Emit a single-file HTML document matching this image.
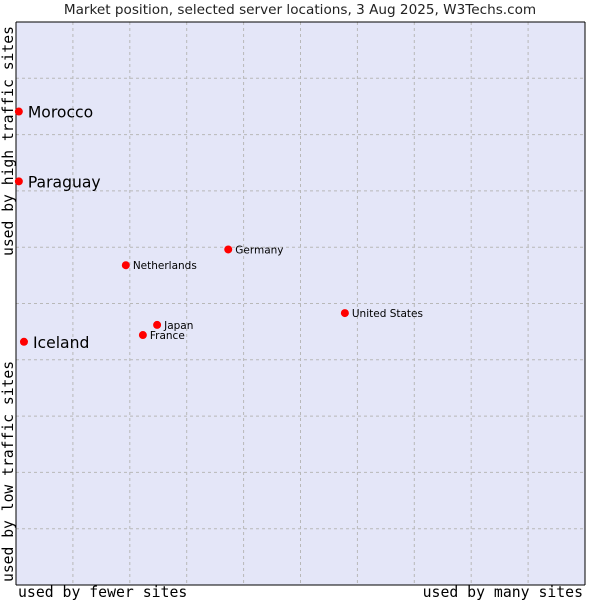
<!DOCTYPE html>
<html><head><meta charset="utf-8"><style>
body{margin:0;background:#fff;}
svg{display:block;font-family:"DejaVu Sans","Liberation Sans",sans-serif;}
</style></head><body>
<svg id="c" width="600" height="600">
<text x="300" y="14" text-anchor="middle" font-size="13.6" fill="#222">Market position, selected server locations, 3 Aug 2025, W3Techs.com</text>
<rect x="16" y="22" width="569" height="563" fill="#e4e6f8" stroke="none"/>
<g id="grid"></g>
<line x1="16" y1="22" x2="16" y2="585" stroke="#000"/>
<line x1="16" y1="585" x2="585" y2="585" stroke="#000"/>
<line x1="16" y1="22" x2="585" y2="22" stroke="#000"/>
<line x1="585" y1="22" x2="585" y2="585" stroke="#000"/>
<g id="pts"></g>
<text x="18" y="597" font-family="DejaVu Sans Mono, Liberation Mono, monospace" font-size="14.8" fill="#000">used by fewer sites</text>
<text x="583" y="597" text-anchor="end" font-family="DejaVu Sans Mono, Liberation Mono, monospace" font-size="14.8" fill="#000">used by many sites</text>
<text transform="translate(13,582) rotate(-90)" font-family="DejaVu Sans Mono, Liberation Mono, monospace" font-size="14.7" fill="#000">used by low traffic sites</text>
<text transform="translate(13,256) rotate(-90)" font-family="DejaVu Sans Mono, Liberation Mono, monospace" font-size="14.7" fill="#000">used by high traffic sites</text>
</svg>
<script>
const names=["Morocco","Paraguay","Iceland","Netherlands","Germany","United States","Japan","France"];
const xVals=[0.5,0.5,1.4,19.3,37.3,57.8,24.8,22.3];
const yVals=[84.1,71.7,43.2,56.8,59.6,48.3,46.2,44.4];
const big=[true,true,true,false,false,false,false,false];
const ns="http://www.w3.org/2000/svg";
const X=v=>16+v*5.69, Y=v=>585-v*5.63;
const g=document.getElementById('grid');
for(let k=1;k<10;k++){
  const l=document.createElementNS(ns,'line');
  l.setAttribute('x1',X(k*10));l.setAttribute('x2',X(k*10));l.setAttribute('y1',22);l.setAttribute('y2',585);
  l.setAttribute('stroke','#b8b8b8');l.setAttribute('stroke-dasharray','3,3');
  
  
  g.appendChild(l);
  const h=document.createElementNS(ns,'line');
  h.setAttribute('y1',Y(k*10));h.setAttribute('y2',Y(k*10));h.setAttribute('x1',16);h.setAttribute('x2',585);
  h.setAttribute('stroke','#b8b8b8');h.setAttribute('stroke-dasharray','3,3');
  
  
  g.appendChild(h);
}
const p=document.getElementById('pts');
names.forEach((n,i)=>{
  const c=document.createElementNS(ns,'circle');
  c.setAttribute('cx',X(xVals[i]));c.setAttribute('cy',Y(yVals[i]));c.setAttribute('r',4);c.setAttribute('fill','#f00');
  
  
  p.appendChild(c);
  const t=document.createElementNS(ns,'text');
  t.setAttribute('x',X(xVals[i])+(big[i]?9:7));t.setAttribute('y',Y(yVals[i])+(big[i]?6:4));
  t.setAttribute('font-size',big[i]?15.6:10.5);t.setAttribute('fill','#000');
  t.textContent=n;
  
  
  p.appendChild(t);
});
</script>
</body></html>
